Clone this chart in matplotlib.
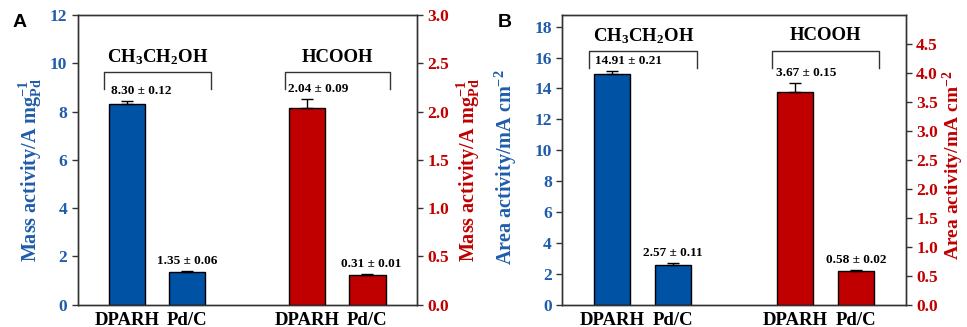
import matplotlib
matplotlib.use("Agg")
import matplotlib.pyplot as plt
import matplotlib.transforms as mtransforms
import numpy as np

plt.rcParams['font.family'] = ['Liberation Serif', 'DejaVu Serif']
plt.rcParams['font.weight'] = 'bold'
plt.rcParams['axes.labelweight'] = 'bold'
plt.rcParams['mathtext.fontset'] = 'custom'
plt.rcParams['mathtext.rm'] = 'Liberation Serif:bold'
plt.rcParams['mathtext.bf'] = 'Liberation Serif:bold'
plt.rcParams['mathtext.it'] = 'Liberation Serif:bold'
plt.rcParams['mathtext.default'] = 'bf'

# data
samples = ['DPARH', 'Pd/C']
groups = ['CH$_3$CH$_2$OH', 'HCOOH']

mass_eth = [8.30, 1.35]
mass_eth_err = [0.12, 0.06]
mass_form = [2.04, 0.31]
mass_form_err = [0.09, 0.01]

area_eth = [14.91, 2.57]
area_eth_err = [0.21, 0.11]
area_form = [3.67, 0.58]
area_form_err = [0.15, 0.02]

blue = '#0052A5'
red = '#C00000'
tick_blue = '#1F5CAA'

fig = plt.figure(figsize=(9.67, 3.27), dpi=100)
axA = fig.add_axes([0.0804, 0.068, 0.3506, 0.886])
axB = fig.add_axes([0.5815, 0.068, 0.3551, 0.886])

pos_eth = np.array([0, 1])
pos_form = np.array([3, 4])


def panel(ax, eth, eth_err, form, form_err, lylim, lticks, rylim, rticks,
          lylabel, rylabel, bracket_y, leg_y, group_y, dx, letter, lcoord, rcoord, rsize):
    ax2 = ax.twinx()
    ax.bar(pos_eth, eth, width=0.6, color=blue, edgecolor='black', linewidth=1, zorder=2)
    ax.errorbar(pos_eth, eth, yerr=[np.zeros(2), eth_err], fmt='none', ecolor='black',
                elinewidth=1, capsize=4, capthick=1, zorder=3)
    ax2.bar(pos_form, form, width=0.6, color=red, edgecolor='black', linewidth=1, zorder=2)
    ax2.errorbar(pos_form, form, yerr=[np.zeros(2), form_err], fmt='none', ecolor='black',
                 elinewidth=1, capsize=4, capthick=1, zorder=3)

    ax.set_xlim(-0.82, 4.82)
    ax.set_ylim(*lylim)
    ax.set_yticks(lticks)
    ax2.set_ylim(*rylim)
    ax2.set_yticks(rticks)
    ax.set_xticks(list(pos_eth) + list(pos_form))
    ax.set_xticklabels(samples * 2, fontsize=13.5)
    ax.tick_params(axis='x', length=0, pad=5)
    ax.tick_params(axis='y', direction='out', length=4, width=1, colors='#333333',
                   labelcolor=tick_blue, labelsize=12.5)
    ax2.tick_params(axis='y', direction='out', length=4, width=1, colors='#333333',
                    labelcolor=red, labelsize=12.5)
    ax.yaxis.set_major_formatter(plt.FormatStrFormatter('%d'))
    ax2.yaxis.set_major_formatter(plt.FormatStrFormatter('%.1f'))
    for a in (ax, ax2):
        for s in a.spines.values():
            s.set_color('#333333')
            s.set_linewidth(1)

    ax.set_ylabel(lylabel, color=tick_blue, fontsize=14.5)
    ax2.set_ylabel(rylabel, color=red, fontsize=rsize)
    ax.yaxis.set_label_coords(*lcoord)
    ax2.yaxis.set_label_coords(*rcoord)

    # value labels
    for i, (p, v, e) in enumerate(zip(pos_eth, eth, eth_err)):
        ax.annotate(f'{v:.2f} ± {e:.2f}', (p, v + e), xytext=(dx[i], 10),
                    textcoords='offset pixels', ha='center', va='center', fontsize=9.5)
    for i, (p, v, e) in enumerate(zip(pos_form, form, form_err)):
        ax2.annotate(f'{v:.2f} ± {e:.2f}', (p, v + e), xytext=(dx[i + 2], 10),
                     textcoords='offset pixels', ha='center', va='center', fontsize=9.5)

    # brackets
    tr = mtransforms.blended_transform_factory(ax.transData, ax.transAxes)
    for (x0, x1), g in zip([(-0.38, 1.40), (2.62, 4.38)], groups):
        ax.plot([x0, x0, x1, x1], [leg_y, bracket_y, bracket_y, leg_y], color='#333333',
                lw=1, transform=tr, clip_on=False, zorder=4)
        ax.text((x0 + x1) / 2, group_y, g, transform=tr, ha='center', va='center',
                fontsize=13.5)

    fig.text(ax.get_position().x0 - 0.067, 0.93, letter, fontsize=14, fontweight='bold',
             family='Liberation Sans', ha='left', va='center')
    return ax2


panel(axA, mass_eth, mass_eth_err, mass_form, mass_form_err,
      (0, 12), np.arange(0, 13, 2), (0, 3), np.arange(0, 3.01, 0.5),
      'Mass activity/A mg$^{\\mathregular{-1}}_{\\mathregular{Pd}}$',
      'Mass activity/A mg$^{\\mathregular{-1}}_{\\mathregular{Pd}}$',
      0.804, 0.745, 0.855, [14, 0, 11, 4], 'A', (-0.100, 0.465), (1.113, 0.465), 14.5)

panel(axB, area_eth, area_eth_err, area_form, area_form_err,
      (0, 18.75), np.arange(0, 19, 2), (0, 5.0), np.arange(0, 4.51, 0.5),
      'Area activity/mA cm$^{\\mathregular{-2}}$',
      'Area activity/mA cm$^{\\mathregular{-2}}$',
      0.877, 0.817, 0.928, [16, 0, 11, 0], 'B', (-0.127, 0.475), (1.103, 0.48), 14)

fig.savefig('out.png', dpi=100)
